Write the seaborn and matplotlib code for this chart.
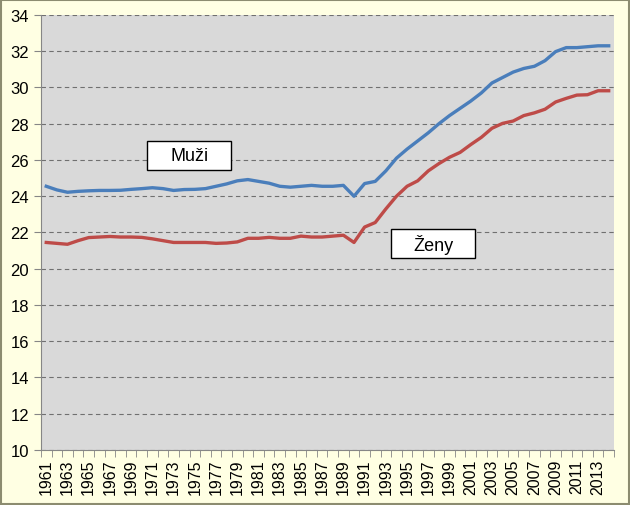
import pandas as pd
import seaborn as sns
import matplotlib.pyplot as plt
from matplotlib.patches import Rectangle

years = list(range(1961, 2015))

muzi = [24.55, 24.35, 24.22, 24.27, 24.30, 24.32, 24.32, 24.33, 24.38, 24.42,
        24.47, 24.42, 24.32, 24.37, 24.38, 24.42, 24.55, 24.68, 24.85, 24.92,
        24.82, 24.72, 24.55, 24.50, 24.55, 24.60, 24.55, 24.55, 24.60, 24.00,
        24.70, 24.82, 25.40, 26.10, 26.60, 27.05, 27.50, 28.00, 28.45, 28.85,
        29.25, 29.70, 30.25, 30.55, 30.85, 31.05, 31.17, 31.48, 31.98, 32.20,
        32.20, 32.25, 32.30, 32.30]

zeny = [21.45, 21.40, 21.35, 21.55, 21.72, 21.75, 21.78, 21.75, 21.75, 21.73,
        21.65, 21.55, 21.45, 21.45, 21.45, 21.45, 21.40, 21.42, 21.48, 21.68,
        21.68, 21.73, 21.68, 21.68, 21.80, 21.75, 21.75, 21.80, 21.85, 21.45,
        22.30, 22.55, 23.30, 24.00, 24.55, 24.85, 25.40, 25.80, 26.15, 26.42,
        26.85, 27.25, 27.75, 28.02, 28.15, 28.45, 28.60, 28.80, 29.20, 29.40,
        29.58, 29.60, 29.82, 29.82]

series = ['Muži', 'Ženy']
colors = {'Muži': '#4A7EBB', 'Ženy': '#BE4B48'}

df = pd.DataFrame({
    'pos': list(range(len(years))) * 2,
    'rok': years * 2,
    'vek': muzi + zeny,
    'pohlavi': ['Muži'] * len(years) + ['Ženy'] * len(years),
})

plt.rcParams['font.family'] = ['Liberation Sans', 'DejaVu Sans']

fig = plt.figure(figsize=(6.3, 5.06), dpi=100, facecolor='#FFFFE3')
ax = fig.add_axes([0.065, 0.1087, 0.9096, 0.8597])
ax.set_facecolor('#D9D9D9')

sns.lineplot(data=df, x='pos', y='vek', hue='pohlavi', palette=colors,
             linewidth=2.4, legend=False, ax=ax)

ax.set_xlim(-0.5, len(years) - 0.5)
ax.set_ylim(10, 34)
ax.set_yticks(range(10, 35, 2))
ax.yaxis.grid(True, color='#707070', linestyle=(0, (4, 3)), linewidth=0.8)
ax.set_axisbelow(True)

ax.set_xticks(range(0, len(years), 2))
ax.set_xticklabels([str(y) for y in years[::2]], rotation=90)
ax.set_xticks([i - 0.5 for i in range(len(years) + 1)], minor=True)
ax.tick_params(axis='x', which='major', length=0, labelsize=11.5, pad=6)
ax.tick_params(axis='x', which='minor', length=5, color='#868686')
ax.tick_params(axis='y', length=5, color='#868686', labelsize=12)

for s in ['top', 'right']:
    ax.spines[s].set_visible(False)
for s in ['left', 'bottom']:
    ax.spines[s].set_color('#868686')
ax.set_xlabel('')
ax.set_ylabel('')

# popisky serii v ramecku
for name, (x0, y0) in zip(series, [(0.1855, 0.644), (0.611, 0.4407)]):
    ax.add_patch(Rectangle((x0, y0), 0.147, 0.067, transform=ax.transAxes,
                           facecolor='white', edgecolor='black', linewidth=1, zorder=5))
    ax.text(x0 + 0.0735, y0 + 0.0335, name, transform=ax.transAxes, ha='center',
            va='center', fontsize=13, zorder=6)

fig.patches.append(Rectangle((0.001, 0.001), 0.997, 0.997, transform=fig.transFigure,
                             fill=False, edgecolor='#8C8C70', linewidth=1.5))

fig.savefig('out.png', dpi=100, facecolor=fig.get_facecolor())
